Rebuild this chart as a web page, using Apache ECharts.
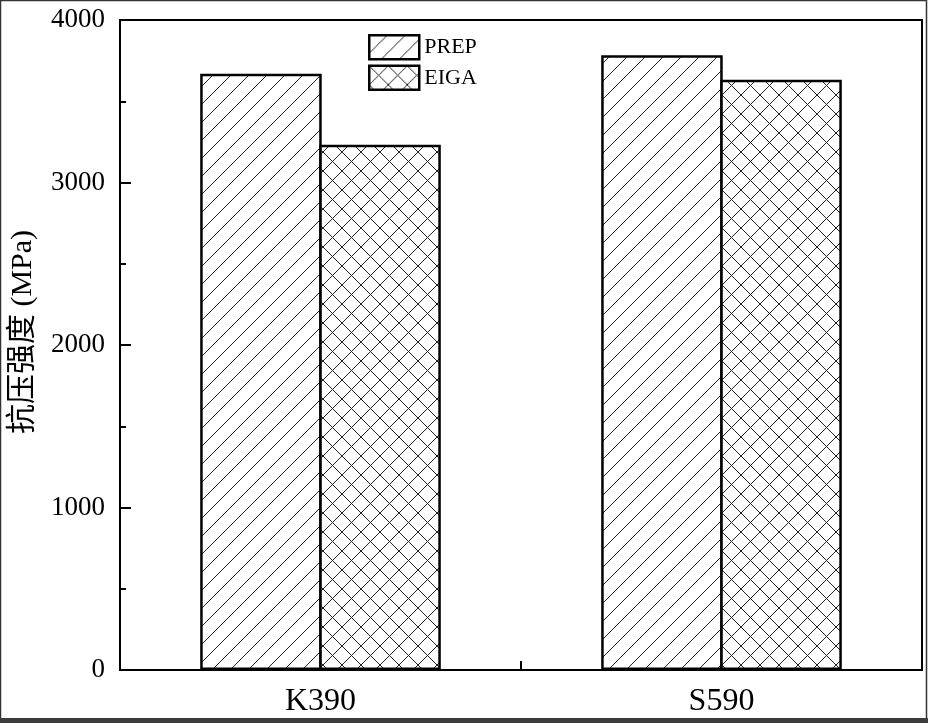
<!DOCTYPE html>
<html>
<head>
<meta charset="utf-8">
<script src="https://cdn.jsdelivr.net/npm/echarts@6/dist/echarts.min.js"></script>
<style>
html,body{margin:0;padding:0;background:#fff;}
#main{width:928px;height:723px;}
</style>
</head>
<body>
<div id="main"></div>
<script>
const categories = ['K390', 'S590'];
const seriesNames = ['PREP', 'EIGA'];
const prepValues = [3670, 3783];
const eigaValues = [3233, 3633];
const yMin = 0, yMax = 4000, yStep = 1000;

function makePattern(size, cross) {
  const c = document.createElement('canvas');
  c.width = size; c.height = size;
  const g = c.getContext('2d');
  g.fillStyle = '#fff';
  g.fillRect(0, 0, size, size);
  g.strokeStyle = '#222';
  g.lineWidth = 1;
  g.beginPath();
  for (const o of [-size, 0, size]) {
    g.moveTo(o - 1, size + 1); g.lineTo(o + size + 1, -1);
    if (cross) { g.moveTo(o - 1, -1); g.lineTo(o + size + 1, size + 1); }
  }
  g.stroke();
  return { image: c, repeat: 'repeat' };
}
const prepFill = makePattern(18, false);
const eigaFill = makePattern(19, true);

const serif = "'Liberation Serif', 'Times New Roman', 'Noto Sans CJK SC', serif";
const legendItemStyle = { borderColor: '#000', borderWidth: 2.5 };
const chart = echarts.init(document.getElementById('main'), null, { renderer: 'canvas' });
chart.setOption({
  backgroundColor: '#fff',
  animation: false,
  grid: { left: 116, right: 6, top: 20, bottom: 53, show: true, borderColor: '#000', borderWidth: 2, backgroundColor: 'transparent' },
  legend: {
    orient: 'vertical', left: 368, top: 34, itemWidth: 50, itemHeight: 24, itemGap: 4,
    icon: 'rect',
    data: seriesNames.map(n => ({ name: n, itemStyle: legendItemStyle })),
    itemStyle: legendItemStyle,
    textStyle: { fontFamily: serif, fontSize: 22, color: '#000' },
    padding: 0
  },
  xAxis: {
    type: 'category', data: categories, boundaryGap: true,
    axisLine: { lineStyle: { color: '#000', width: 2 } },
    axisTick: { show: true, inside: true, length: 9, lineStyle: { color: '#000', width: 2 } },
    axisLabel: { fontFamily: serif, fontSize: 32, color: '#000', margin: 16 }
  },
  yAxis: {
    type: 'value', min: yMin, max: yMax, interval: yStep,
    name: '抗压强度 (MPa)', nameLocation: 'middle', nameGap: 82,
    nameTextStyle: { fontFamily: serif, fontSize: 30, color: '#000', padding: [0, 0, 0, 26] },
    splitLine: { show: false },
    axisLine: { show: true, lineStyle: { color: '#000', width: 2 } },
    axisTick: { show: true, inside: true, length: 11, lineStyle: { color: '#000', width: 2 } },
    minorTick: { show: true, splitNumber: 2, length: 6, lineStyle: { color: '#000', width: 2 } },
    axisLabel: { fontFamily: serif, fontSize: 27, color: '#000', margin: 15, formatter: v => String(v) }
  },
  series: [
    { name: seriesNames[0], type: 'bar', data: prepValues, barGap: '-2%', barCategoryGap: '40%',
      itemStyle: { color: prepFill, borderColor: '#000', borderWidth: 2.5 } },
    { name: seriesNames[1], type: 'bar', data: eigaValues, barGap: '-2%', barCategoryGap: '40%',
      itemStyle: { color: eigaFill, borderColor: '#000', borderWidth: 2.5 } }
  ],
  graphic: [
    { type: 'rect', silent: true, z: 100, shape: { x: 0.5, y: 0.5, width: 926, height: 721 }, style: { fill: 'none', stroke: '#333', lineWidth: 1.5 } },
    { type: 'rect', silent: true, z: 100, shape: { x: 0, y: 718, width: 928, height: 5 }, style: { fill: '#3c3c3c' } }
  ]
});
</script>
</body>
</html>
